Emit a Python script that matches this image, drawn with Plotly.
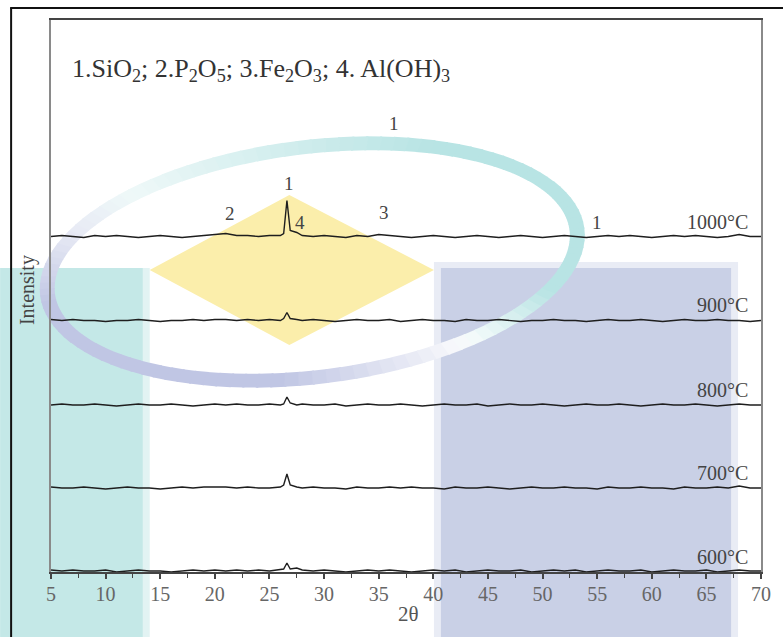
import numpy as np
import plotly.graph_objects as go

# ---------------- data ----------------
two_theta = [5, 6, 7, 8, 9, 10, 11, 12, 13, 14, 15, 16, 17, 18, 19, 20, 21, 22, 23, 24, 25, 26,
             26.3, 26.6, 26.9, 27.5,
             28, 29, 30, 31, 32, 33, 34, 35, 36, 37, 38, 39, 40, 41, 42, 43, 44, 45, 46, 47, 48, 49,
             50, 51, 52, 53, 54, 55, 56, 57, 58, 59, 60, 61, 62, 63, 64, 65, 66, 67, 68, 69, 70]

I_1000 = [0, 1, 0, -1, 1, 0, 1, 0, -1, 0, 1, 0, -1, 0, 1, 2, 3, 1, 1, 0, 1, 1,
          3, 36, 6, 4,
          1, 0, 1, 0, -1, 1, 0, 2, 1, 0, -1, 0, 1, 0, -1, 0, 1, 0, -1, 0, 1, 0,
          -1, 0, 1, 0, -1, 0, 1, 0, 1, 0, -1, 0, 1, 0, 1, 0, -1, 0, 2, 0, 0]
I_900 = [1, 0, 1, 0, 0, -1, 0, 0, 1, 0, -1, 0, 0, 1, 0, 1, 1, 0, 1, 0, 1, 0,
         2, 8, 2, 1,
         0, 1, 0, -1, 0, 1, 0, 0, 1, -1, 0, 1, 0, 0, -1, 1, 0, 0, 1, 0, -1, 0,
         0, 1, 0, 0, -1, 0, 1, 0, 0, 1, 0, -1, 0, 1, 0, 0, 1, 0, 0, -1, 0]
I_800 = [0, 1, 0, 0, 1, 0, -1, 0, 1, 0, 0, 1, 0, -1, 0, 1, 0, 1, 0, 0, 1, 0,
         1, 8, 2, 0,
         1, 0, 0, 1, -1, 0, 1, 0, 0, 1, 0, -1, 0, 1, 0, 0, 1, -1, 0, 1, 0, 0,
         1, 0, -1, 0, 1, 0, 0, 1, 0, -1, 0, 1, 0, 0, 1, 0, -1, 0, 1, 0, 0]
I_700 = [1, 0, 0, 1, 0, -1, 0, 1, 0, 0, -1, 0, 1, 0, 1, 1, 1, 0, 1, 0, 0, 1,
         3, 14, 3, 1,
         0, 1, 0, 0, -1, 1, 0, 0, 1, 0, 1, 0, 0, -1, 1, 0, 0, 1, 0, -1, 0, 1,
         0, 0, 1, 0, 0, -1, 1, 0, 0, 1, 0, 0, -1, 1, 0, 0, 1, 0, 2, 0, 0]
I_600 = [1, 0, 1, 0, 0, 1, -1, 0, 1, 0, 0, -1, 0, 1, 0, 1, 0, 1, 0, 1, 0, 1,
         2, 8, 2, 3,
         1, 0, 1, 0, -1, 0, 1, 0, 1, 0, -1, 0, 1, 0, 1, -1, 0, 1, 0, 0, 1, -1,
         0, 1, 0, 1, -1, 0, 1, 0, 0, 1, -1, 0, 1, 0, 0, 1, -1, 0, 1, 0, 0]

series_names = ["1000°C", "900°C", "800°C", "700°C", "600°C"]
series_values = [I_1000, I_900, I_800, I_700, I_600]
offsets = [335.5, 251.5, 167.0, 84.0, 1.0]
label_y = [350, 267, 182, 99, 15]

peak_labels = ["1", "2", "4", "3", "1", "1"]
peak_x = [26.8, 21.4, 27.8, 35.5, 55.0, 36.4]
peak_y = [389, 359, 350, 360, 350, 449]

x_ticks = [5, 10, 15, 20, 25, 30, 35, 40, 45, 50, 55, 60, 65, 70]

# ---------------- figure ----------------
W, H = 783, 637
L, R, T, B = 51, 763, 20, 572   # plot area in pixels

def px(xp):
    return (xp - L) / (R - L)

def py(yp):
    return (B - yp) / (B - T)

fig = go.Figure()
for name, vals, off in zip(series_names, series_values, offsets):
    fig.add_trace(go.Scatter(
        x=two_theta, y=[off + v for v in vals], mode="lines", name=name,
        line=dict(color="#1e1e1e", width=1.4), showlegend=False, hoverinfo="skip"))

serif = "Liberation Serif, Times New Roman, serif"
ann = []
for name, ly in zip(series_names, label_y):
    ann.append(dict(x=69.0, y=ly, xref="x", yref="y", text=name, showarrow=False,
                    xanchor="right", yanchor="middle",
                    font=dict(family=serif, size=20, color="#444")))
for t, xx, yy in zip(peak_labels, peak_x, peak_y):
    ann.append(dict(x=xx, y=yy, xref="x", yref="y", text=t, showarrow=False,
                    xanchor="center", yanchor="middle",
                    font=dict(family=serif, size=19, color="#444")))
ann.append(dict(x=px(70), y=py(70), xref="paper", yref="paper",
                text="1.SiO<sub>2</sub>; 2.P<sub>2</sub>O<sub>5</sub>; 3.Fe<sub>2</sub>O<sub>3</sub>; 4. Al(OH)<sub>3</sub>",
                showarrow=False, xanchor="left", yanchor="middle",
                font=dict(family=serif, size=26, color="#333")))
ann.append(dict(x=px(27), y=py(290), xref="paper", yref="paper", text="Intensity",
                showarrow=False, textangle=-90, xanchor="center", yanchor="middle",
                font=dict(family=serif, size=20, color="#444")))
ann.append(dict(x=px(410), y=py(614), xref="paper", yref="paper", text="2θ",
                showarrow=False, xanchor="center", yanchor="middle",
                font=dict(family=serif, size=21, color="#555")))

# ---------------- watermark decoration ----------------
shapes = []
def rect(x0, y0, x1, y1, color, layer="below"):
    shapes.append(dict(type="rect", xref="paper", yref="paper",
                       x0=px(x0), x1=px(x1), y0=py(y0), y1=py(y1),
                       line=dict(width=0), fillcolor=color, layer=layer))

rect(0, 268, 150, 640, "#e2f3f3")
rect(0, 268, 143, 640, "#c4e8e7")
rect(435, 262, 740, 640, "#e9ecf5")
rect(442, 268, 733, 640, "#c9d0e6")

# yellow diamond
dpts = [(150, 270), (290, 195), (435, 270), (290, 345)]
path = "M " + " L ".join(f"{px(a):.5f},{py(b):.5f}" for a, b in dpts) + " Z"
shapes.append(dict(type="path", xref="paper", yref="paper", path=path,
                   line=dict(width=0), fillcolor="#fbeeab", layer="below"))

# ring (swoosh)
cx, cy, a_o, b_o, a_i, b_i, rot = 313, 262, 275, 122, 260, 108, np.deg2rad(7)
teal = np.array([184, 228, 228]); blue = np.array([192, 198, 228]); white = np.array([255, 255, 255])

def ring_pt(t, a, b):
    x = a * np.cos(t); y = b * np.sin(t)
    xr = x * np.cos(rot) - y * np.sin(rot)
    yr = x * np.sin(rot) + y * np.cos(rot)
    return cx + xr, cy - yr

def w_teal(d):
    d = (d + 180) % 360 - 180
    if -60 <= d < -30: return (d + 60) / 30
    if -30 <= d <= 60: return 1.0
    if 60 < d <= 150: return (150 - d) / 90
    return 0.0

def w_blue(d):
    d = d % 360
    if 130 <= d < 185: return (d - 130) / 55
    if 185 <= d <= 260: return 1.0
    if 260 < d <= 305: return (305 - d) / 45
    return 0.0

N = 120
for i in range(N):
    t0 = 2 * np.pi * i / N
    t1 = 2 * np.pi * (i + 1.15) / N
    dm = np.degrees((t0 + t1) / 2)
    wt, wb = w_teal(dm), w_blue(dm)
    s = wt + wb
    if s < 0.03:
        continue
    if s > 1:
        wt, wb = wt / s, wb / s
    c = white * (1 - wt - wb) + teal * wt + blue * wb
    col = "rgb(%d,%d,%d)" % tuple(c.astype(int))
    p = [ring_pt(t0, a_o, b_o), ring_pt(t1, a_o, b_o), ring_pt(t1, a_i, b_i), ring_pt(t0, a_i, b_i)]
    path = "M " + " L ".join(f"{px(a):.5f},{py(b):.5f}" for a, b in p) + " Z"
    shapes.append(dict(type="path", xref="paper", yref="paper", path=path,
                       line=dict(width=0), fillcolor=col, layer="below"))

# outer frame
shapes.append(dict(type="line", xref="paper", yref="paper", x0=px(11), x1=px(11), y0=py(8), y1=py(640),
                   line=dict(color="#111", width=2), layer="above"))
shapes.append(dict(type="line", xref="paper", yref="paper", x0=px(10), x1=px(790), y0=py(8), y1=py(8),
                   line=dict(color="#111", width=2), layer="above"))

fig.update_layout(
    width=W, height=H,
    margin=dict(l=L, r=W - R, t=T, b=H - B),
    paper_bgcolor="white", plot_bgcolor="rgba(0,0,0,0)",
    annotations=ann, shapes=shapes,
    xaxis=dict(range=[5, 70], tickvals=x_ticks, ticks="outside", ticklen=5, tickwidth=1.5,
               tickcolor="#444", showline=True, mirror=True, linecolor="#444", linewidth=2,
               showgrid=False, zeroline=False, ticklabelstandoff=-2,
               minor=dict(dtick=2.5, tick0=5, ticks="outside", ticklen=4, tickcolor="#444", tickwidth=1.2),
               tickfont=dict(family=serif, size=20, color="#666")),
    yaxis=dict(range=[0, 552], showticklabels=False, ticks="", showline=True, mirror=True,
               linecolor="#8a8a8a", linewidth=2, showgrid=False, zeroline=False),
)

fig.write_html("out.html")
